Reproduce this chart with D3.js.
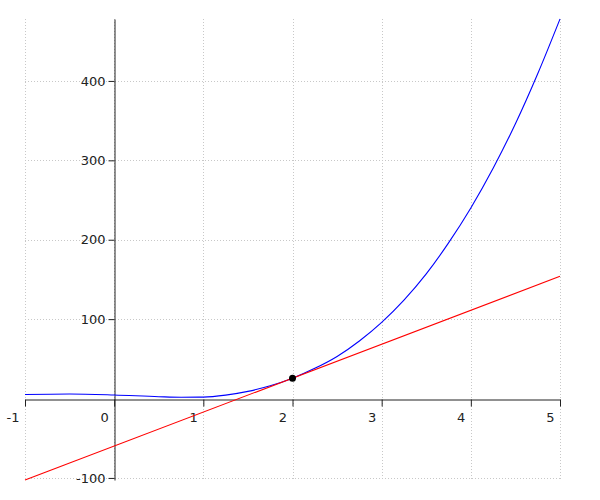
<!DOCTYPE html>
<html>
<head>
<meta charset="utf-8">
<script src="https://cdn.jsdelivr.net/npm/d3@7"></script>
<style>
  body { margin: 0; background: #fff; }
  text { font-family: "DejaVu Sans", sans-serif; }
</style>
</head>
<body>
<div id="chart"></div>
<script>
const width = 600;
const height = 500;
const margin = { top: 19, right: 40, bottom: 20, left: 25 };

// curve samples
const curveX = [-1, -0.5, 0, 0.5, 0.75, 1, 1.25, 1.5, 1.75, 2, 2.25, 2.5, 2.75, 3, 3.25, 3.5, 3.75, 4, 4.25, 4.5, 4.75, 5];
const curveY = [5, 5.8, 4.5, 2.3, 1.6, 1.8, 4.3, 9, 16, 25.6, 38, 53, 72.5, 96, 124, 157, 196, 240, 290, 346, 409, 478];

// tangent line end points and touching point
const tangentX = [-1, 5];
const tangentY = [-102.6, 154];
const pointX = [2];
const pointY = [25.6];

const xTicks = [-1, 0, 1, 2, 3, 4, 5];
const yTicks = [-100, 100, 200, 300, 400];

const svg = d3.select("#chart")
  .append("svg")
  .attr("width", width)
  .attr("height", height);

const x = d3.scaleLinear()
  .domain([-1, 5])
  .range([margin.left, width - margin.right]);

const y = d3.scaleLinear()
  .domain([-102.6, 478])
  .range([height - margin.bottom, margin.top]);

// grid
const grid = svg.append("g")
  .attr("stroke", "#c8c8c8")
  .attr("stroke-dasharray", "1,2")
  .attr("shape-rendering", "crispEdges");

grid.selectAll(".vg")
  .data(xTicks)
  .join("line")
  .attr("x1", d => Math.round(x(d)) + 0.5)
  .attr("x2", d => Math.round(x(d)) + 0.5)
  .attr("y1", y.range()[1])
  .attr("y2", y.range()[0]);

grid.selectAll(".hg")
  .data(yTicks)
  .join("line")
  .attr("x1", x.range()[0])
  .attr("x2", x.range()[1])
  .attr("y1", d => Math.round(y(d)) + 0.5)
  .attr("y2", d => Math.round(y(d)) + 0.5);

// axes through the origin
const xAxis = d3.axisBottom(x)
  .tickValues(xTicks)
  .tickFormat(d => String(d))
  .tickSize(7)
  .tickSizeOuter(0);

const gx = svg.append("g")
  .attr("transform", `translate(0,${Math.round(y(0)) + 0.5})`)
  .call(xAxis);

gx.selectAll("text")
  .attr("text-anchor", "end")
  .attr("dx", "-6px")
  .attr("dy", "0.95em");

const yAxis = d3.axisLeft(y)
  .tickValues(yTicks)
  .tickFormat(d => String(d))
  .tickSize(6)
  .tickPadding(3)
  .tickSizeOuter(0);

const gy = svg.append("g")
  .attr("transform", `translate(${Math.round(x(0)) + 0.5},0)`)
  .call(yAxis);

[gx, gy].forEach(g => {
  g.selectAll(".domain").attr("stroke", "#222");
  g.selectAll(".tick line").attr("stroke", "#222");
  g.selectAll("text")
    .attr("fill", "#222")
    .attr("font-size", "13px")
    .attr("font-family", "DejaVu Sans, sans-serif");
});

// function curve
const curveData = curveX.map((d, i) => [d, curveY[i]]);
svg.append("path")
  .datum(curveData)
  .attr("fill", "none")
  .attr("stroke", "#0000ff")
  .attr("stroke-width", 1.1)
  .attr("d", d3.line()
    .x(d => x(d[0]))
    .y(d => y(d[1]))
    .curve(d3.curveMonotoneX));

// tangent
const tangentData = tangentX.map((d, i) => [d, tangentY[i]]);
svg.append("path")
  .datum(tangentData)
  .attr("fill", "none")
  .attr("stroke", "#ff0000")
  .attr("stroke-width", 1.1)
  .attr("d", d3.line().x(d => x(d[0])).y(d => y(d[1])));

// touching point
svg.selectAll(".pt")
  .data(pointX.map((d, i) => [d, pointY[i]]))
  .join("circle")
  .attr("cx", d => x(d[0]))
  .attr("cy", d => y(d[1]))
  .attr("r", 3.5)
  .attr("fill", "#000");
</script>
</body>
</html>
